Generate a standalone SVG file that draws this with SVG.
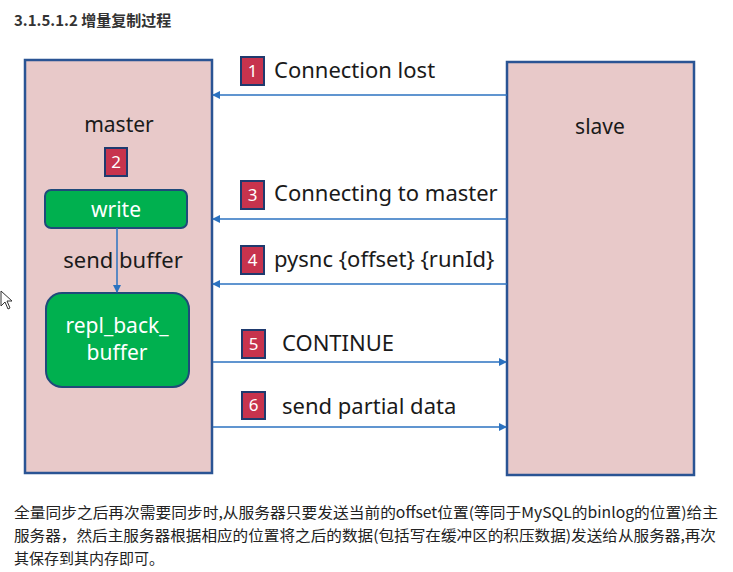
<svg xmlns="http://www.w3.org/2000/svg" width="733" height="572" viewBox="0 0 733 572">
<defs>
<style>
.box{fill:#e8c9c9;stroke:#2a5494;stroke-width:2.5}
.green{fill:#00b04f;stroke:#1f4a7a;stroke-width:2}
.badge{fill:#c7334d;stroke:#1f3a6e;stroke-width:2}
.bnum{font-family:"Noto Sans","DejaVu Sans",sans-serif;font-size:17px;fill:#ffffff;text-anchor:middle}
.lbl{font-family:"Noto Sans","DejaVu Sans",sans-serif;font-size:22px;fill:#1a1a1a}
.nm{font-family:"Noto Sans","DejaVu Sans",sans-serif;font-size:21px;fill:#1a1a1a;text-anchor:middle}
.wlbl{font-family:"Noto Sans","DejaVu Sans",sans-serif;font-size:21px;fill:#ffffff;text-anchor:middle}
.conn{stroke:#2b72c0;stroke-width:1.5;fill:none;marker-end:url(#arr)}
.para{font-family:"Noto Sans CJK SC","Noto Sans",sans-serif;font-size:15px;fill:#222222}
</style>
<marker id="arr" markerWidth="8" markerHeight="8" refX="7" refY="4" orient="auto" markerUnits="userSpaceOnUse">
<path d="M0,0 L8,4 L0,8 z" fill="#2b72c0"/>
</marker>
</defs>
<rect width="733" height="572" fill="#ffffff"/>
<text x="14" y="26" font-family="Noto Sans CJK SC,Noto Sans,sans-serif" font-size="15" font-weight="bold" fill="#333333">3.1.5.1.2 增量复制过程</text>

<g id="master">
<rect class="box" x="25" y="60" width="187" height="413"/>
<text class="nm" x="119" y="132">master</text>
</g>
<g id="slave">
<rect class="box" x="507" y="62" width="187" height="413"/>
<text class="nm" x="600" y="134">slave</text>
</g>
<g id="badge2">
<rect class="badge" x="105" y="148" width="22" height="28"/>
<text class="bnum" x="116" y="168">2</text>
</g>
<g id="write">
<rect class="green" x="45" y="190" width="142" height="38" rx="6"/>
<text class="wlbl" x="116" y="217">write</text>
</g>
<g id="repl">
<rect class="green" x="46" y="293" width="143" height="94" rx="16"/>
<text class="wlbl" x="117" y="333">repl_back_</text>
<text class="wlbl" x="117" y="360">buffer</text>
</g>

<g id="connectors">
<line class="conn" x1="117" y1="228" x2="117" y2="292"/>
<line class="conn" x1="507" y1="95" x2="213" y2="95"/>
<line class="conn" x1="507" y1="219" x2="213" y2="219"/>
<line class="conn" x1="507" y1="284" x2="213" y2="284"/>
<line class="conn" x1="213" y1="362" x2="506" y2="362"/>
<line class="conn" x1="213" y1="427" x2="506" y2="427"/>
</g>
<text class="lbl" x="123" y="268" text-anchor="middle" font-size="21.5">send buffer</text>

<g id="step1">
<rect class="badge" x="241" y="57" width="23" height="28"/>
<text class="bnum" x="252.5" y="77">1</text>
<text class="lbl" x="274" y="78">Connection lost</text>
</g>
<g id="step3">
<rect class="badge" x="241" y="181" width="23" height="28"/>
<text class="bnum" x="252.5" y="201">3</text>
<text class="lbl" x="274" y="201">Connecting to master</text>
</g>
<g id="step4">
<rect class="badge" x="241" y="246" width="23" height="28"/>
<text class="bnum" x="252.5" y="266">4</text>
<text class="lbl" x="274" y="267">pysnc {offset} {runId}</text>
</g>
<g id="step5">
<rect class="badge" x="242" y="330" width="23" height="28"/>
<text class="bnum" x="253.5" y="350">5</text>
<text class="lbl" x="282" y="351">CONTINUE</text>
</g>
<g id="step6">
<rect class="badge" x="242" y="392" width="23" height="27"/>
<text class="bnum" x="253.5" y="411">6</text>
<text class="lbl" x="282" y="414">send partial data</text>
</g>

<path d="M1,291 L1,306 L5,302 L8,309 L10,308 L7,301 L12,301 Z" fill="#ffffff" stroke="#333333" stroke-width="1"/>

<text class="para" x="14" y="518" textLength="704" lengthAdjust="spacingAndGlyphs">全量同步之后再次需要同步时,从服务器只要发送当前的offset位置(等同于MySQL的binlog的位置)给主</text>
<text class="para" x="14" y="541" textLength="702" lengthAdjust="spacingAndGlyphs">服务器，然后主服务器根据相应的位置将之后的数据(包括写在缓冲区的积压数据)发送给从服务器,再次</text>
<text class="para" x="14" y="564">其保存到其内存即可。</text>
</svg>
